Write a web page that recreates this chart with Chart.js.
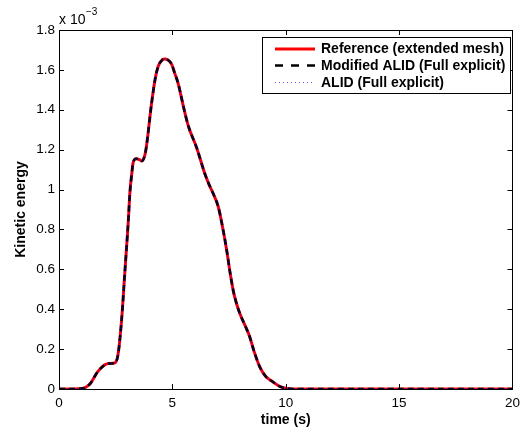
<!DOCTYPE html>
<html>
<head>
<meta charset="utf-8">
<script src="https://cdn.jsdelivr.net/npm/chart.js@4"></script>
<style>
  html, body { margin: 0; padding: 0; background: #fff; }
</style>
</head>
<body>
<canvas id="chart" width="526" height="429"></canvas>
<script>
// time (s)
const time = [0, 0.5, 1.0, 1.2, 1.4, 1.66, 1.85, 2.03, 2.2, 2.45, 2.6, 2.76, 2.91, 3.05, 3.13, 3.2, 3.27, 3.4, 3.55, 3.65, 3.78, 3.86, 4.08, 4.25, 4.38, 4.55, 4.67, 4.8, 4.96, 5.1, 5.26, 5.48, 5.7, 6.07, 6.43, 6.6, 6.8, 7.02, 7.2, 7.39, 7.55, 7.68, 7.8, 7.97, 8.2, 8.41, 8.6, 8.85, 9.1, 9.44, 9.7, 10.03, 10.5, 20];

// kinetic energy, in units of 1e-3
const reference = [0, 0, 0.002, 0.01, 0.03, 0.079, 0.105, 0.122, 0.128, 0.13, 0.17, 0.345, 0.596, 0.83, 0.99, 1.07, 1.135, 1.155, 1.15, 1.143, 1.17, 1.22, 1.43, 1.56, 1.62, 1.65, 1.655, 1.65, 1.63, 1.585, 1.53, 1.42, 1.32, 1.21, 1.08, 1.03, 0.98, 0.915, 0.82, 0.7, 0.58, 0.496, 0.44, 0.38, 0.32, 0.262, 0.19, 0.112, 0.065, 0.035, 0.015, 0.003, 0, 0];
const modifiedAlid = reference.slice();
const alid = reference.slice();

const seriesNames = ["Reference (extended mesh)", "Modified ALID (Full explicit)", "ALID (Full explicit)"];
const xTicks = [0, 5, 10, 15, 20];
const yTicks = [0, 0.2, 0.4, 0.6, 0.8, 1, 1.2, 1.4, 1.6, 1.8];

const pts = (ys) => time.map((t, i) => ({ x: t, y: ys[i] }));
const FONT = "'Liberation Sans', Arial, sans-serif";

// frame, inner ticks, exponent label and legend in MATLAB style
const matlabBits = {
  id: "matlabBits",
  afterDraw(chart) {
    const { ctx, chartArea: a, scales } = chart;
    ctx.save();
    ctx.strokeStyle = "#000";
    ctx.lineWidth = 1;
    ctx.strokeRect(Math.round(a.left) + 0.5, Math.round(a.top) + 0.5, Math.round(a.right - a.left), Math.round(a.bottom - a.top));

    // inner ticks
    ctx.beginPath();
    xTicks.forEach(v => {
      const x = Math.round(scales.x.getPixelForValue(v)) + 0.5;
      ctx.moveTo(x, a.bottom); ctx.lineTo(x, a.bottom - 5);
      ctx.moveTo(x, a.top); ctx.lineTo(x, a.top + 5);
    });
    yTicks.forEach(v => {
      const y = Math.round(scales.y.getPixelForValue(v)) + 0.5;
      ctx.moveTo(a.left, y); ctx.lineTo(a.left + 5, y);
      ctx.moveTo(a.right, y); ctx.lineTo(a.right - 5, y);
    });
    ctx.stroke();

    // exponent
    ctx.fillStyle = "#000";
    ctx.textBaseline = "alphabetic";
    ctx.textAlign = "left";
    ctx.font = "14px " + FONT;
    ctx.fillText("x 10", a.left, a.top - 6.5);
    const w = ctx.measureText("x 10").width;
    ctx.font = "10px " + FONT;
    ctx.fillText("\u22123", a.left + w + 0.5, a.top - 15.5);

    // legend
    const lx = 262, ly = 37, lw = 248, lh = 56;
    ctx.fillStyle = "#fff";
    ctx.fillRect(lx, ly, lw, lh);
    ctx.strokeRect(lx + 0.5, ly + 0.5, lw, lh);
    ctx.font = "bold 14px " + FONT;
    ctx.textBaseline = "middle";
    const rows = [49, 65.5, 82.5];
    const dashes = [[], [8, 8], [1, 3]];
    const colors = ["#ff0000", "#000000", "#5555ff"];
    chart.data.datasets.forEach((ds, i) => {
      const y = rows[i];
      ctx.beginPath();
      ctx.strokeStyle = colors[i];
      ctx.lineWidth = ds.borderWidth;
      ctx.setLineDash(dashes[i]);
      ctx.moveTo(275, y); ctx.lineTo(315, y);
      ctx.stroke();
      ctx.setLineDash([]);
      ctx.fillStyle = "#000";
      ctx.fillText(ds.label, 321, Math.round(y));
    });
    ctx.restore();
  }
};

new Chart(document.getElementById("chart"), {
  type: "scatter",
  data: {
    datasets: [
      { label: seriesNames[0], data: pts(reference), borderColor: "#ff0000", borderWidth: 3, order: 3 },
      { label: seriesNames[1], data: pts(modifiedAlid), borderColor: "#000000", borderWidth: 2.5, borderDash: [6, 4], order: 2 },
      { label: seriesNames[2], data: pts(alid), borderColor: "#0000ff", borderWidth: 1, borderDash: [1, 2], order: 1 }
    ].map(ds => Object.assign(ds, { showLine: true, pointRadius: 0, cubicInterpolationMode: "monotone", fill: false }))
  },
  options: {
    responsive: false,
    animation: false,
    layout: { padding: { top: 30, right: 13, left: 0, bottom: 0 } },
    plugins: { legend: { display: false }, tooltip: { enabled: false } },
    scales: {
      x: {
        type: "linear", min: 0, max: 20,
        afterFit: s => { s.height = 40; },
        afterBuildTicks: s => { s.ticks = xTicks.map(v => ({ value: v })); },
        grid: { display: false, tickLength: 0 },
        border: { display: false },
        ticks: { color: "#000", padding: 6, maxRotation: 0, font: { family: FONT, size: 13.5 } },
        title: { display: true, text: "time (s)", color: "#000", padding: { top: 5, bottom: 0 }, font: { family: FONT, size: 14, weight: "bold" } }
      },
      y: {
        min: 0, max: 1.8,
        afterFit: s => { s.width = 59; },
        afterBuildTicks: s => { s.ticks = yTicks.map(v => ({ value: v })); },
        grid: { display: false, tickLength: 0 },
        border: { display: false },
        ticks: { color: "#000", padding: 4, font: { family: FONT, size: 13.5 }, callback: v => String(Math.round(v * 10) / 10) },
        title: { display: true, text: "Kinetic energy", color: "#000", padding: { top: 13, bottom: 0 }, font: { family: FONT, size: 14, weight: "bold" } }
      }
    }
  },
  plugins: [matlabBits]
});
</script>
</body>
</html>
